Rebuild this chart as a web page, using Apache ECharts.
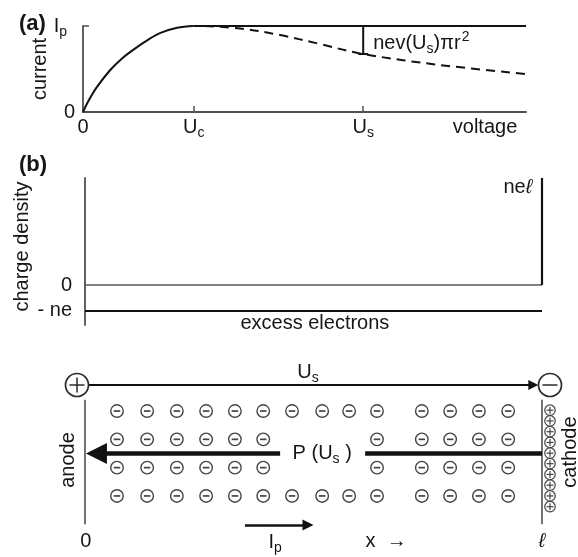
<!DOCTYPE html>
<html><head><meta charset="utf-8">
<script src="https://cdn.jsdelivr.net/npm/echarts@6/dist/echarts.min.js"></script>
<style>html,body{margin:0;padding:0;background:#fff}#c{width:578px;height:557px}</style>
</head><body><div id="c"></div>
<script>
// ---------- panel (a): current vs voltage (voltage in units of Uc, current in units of Ip)
const riseVoltage    = [0, 0.05, 0.12, 0.24, 0.35, 0.45, 0.60, 0.70, 0.85, 1.00];
const riseCurrent    = [0, 0.13, 0.28, 0.48, 0.62, 0.72, 0.85, 0.92, 0.98, 1.00];
const plateauVoltage = [1.00, 4.00];
const plateauCurrent = [1.00, 1.00];
const limitedVoltage = [1.10, 1.42, 1.78, 2.14, 2.53, 3.22, 4.00];
const limitedCurrent = [1.00, 0.971, 0.895, 0.79, 0.674, 0.547, 0.442];
const Uc = 1.0, Us = 2.53, voltageMax = 4.0;
const aXTickValues = [0, Uc, Us, 3.63];
const aXTickLabels = ['{m|0}', '{m|U}{s|c}', '{m|U}{s|s}', '{m|voltage}'];
const aYTickValues = [0, 1];
const aYTickLabels = ['{m|0}', '{m|I}{sp|p}'];
const lossLabel = '{m|nev(U}{s|s}{m|)πr}{p|2}';

// ---------- panel (b): charge density vs position (x in units of ℓ, density in units of ne)
const densityX       = [0, 1];
const zeroLevel      = [0, 0];
const electronLevel  = [-1, -1];
const cathodeSpikeX  = [1, 1];
const cathodeSpikeY  = [0, 4.12];
const bYTickValues   = [0, -1];
const bYTickLabels   = ['{m|0}', '{m|- ne}'];

// ---------- panel (c): diode sketch (x in units of ℓ, lateral position in row units)
const electronColsAll   = [0.070, 0.136, 0.201, 0.265, 0.328, 0.390, 0.453, 0.519, 0.578, 0.639, 0.737, 0.799, 0.862, 0.926];
const electronColsInner = [0.070, 0.136, 0.201, 0.265, 0.328, 0.390, 0.639, 0.737, 0.799, 0.862, 0.926];
const electronRowsOuter = [1.5, -1.5];
const electronRowsInner = [0.5, -0.5];
const cathodeChargeY    = [1.53, 1.15, 0.77, 0.39, 0.01, -0.36, -0.74, -1.12, -1.50, -1.88];
const cathodeChargeX    = 1.0175;
const terminalX         = [-0.0175, 1.0175];
const terminalY         = 2.42;
const terminalSign      = ['+', '-'];
const plateTop = 1.9, plateBottom = -2.5;

const FONT = '"Liberation Sans", Arial, Helvetica, sans-serif';
const TXT = '#161616';
const AX = '#505050';
const DARK = '#121212';

const rich = {
  m:  {fontSize: 20, fontFamily: FONT, color: TXT},
  i:  {fontSize: 20, fontFamily: FONT, color: TXT, fontStyle: 'italic'},
  s:  {fontSize: 14, fontFamily: FONT, color: TXT, padding: [6, 0, -6, 0]},
  sp: {fontSize: 14, fontFamily: FONT, color: TXT, padding: [6, 8, -6, 0]},
  p:  {fontSize: 14, fontFamily: FONT, color: TXT, padding: [-6, 0, 6, 1]}
};

function pick(values, labels) {
  return function (v) {
    let best = 0;
    values.forEach((t, k) => { if (Math.abs(t - v) < Math.abs(values[best] - v)) best = k; });
    return labels[best];
  };
}
function zip(a, b) { return a.map((v, k) => [v, b[k]]); }

function lineSeries(grid, data, style, extra) {
  return Object.assign({
    type: 'line', xAxisIndex: grid, yAxisIndex: grid, data: data,
    showSymbol: false, symbol: 'none', silent: true, clip: false,
    lineStyle: Object.assign({color: DARK, width: 2, opacity: 1}, style), z: 3
  }, extra || {});
}
function arrowSeries(grid, from, to, width, head) {
  return {
    type: 'lines', coordinateSystem: 'cartesian2d', xAxisIndex: grid, yAxisIndex: grid,
    polyline: false, silent: true, symbol: ['none', 'triangle'], symbolSize: [0, head],
    lineStyle: {color: DARK, width: width, opacity: 1, curveness: 0},
    itemStyle: {color: DARK, opacity: 1},
    data: [{coords: [from, to]}], z: 5
  };
}
function labelStyle(text, rotate, align) {
  return {show: true, position: [0, 0], formatter: text, rotate: rotate || 0, rich: rich,
          align: align || 'center', verticalAlign: 'middle', color: TXT, opacity: 1,
          textBorderWidth: 0, textShadowBlur: 0};
}
function textSeries(grid, points, texts, rotations) {
  return {
    type: 'scatter', xAxisIndex: grid, yAxisIndex: grid, symbolSize: 0, silent: true, clip: false, z: 10,
    itemStyle: {color: TXT, opacity: 1},
    data: points.map((p, k) => ({value: p, label: labelStyle(texts[k], rotations ? rotations[k] : 0)}))
  };
}
function dotSeries(grid, points, symbol, size, style, z) {
  return {
    type: 'scatter', xAxisIndex: grid, yAxisIndex: grid, silent: true, clip: false, z: z,
    symbol: symbol, symbolSize: size, itemStyle: Object.assign({opacity: 1}, style), data: points
  };
}

// electron positions from the column/row arrays
const electronPoints = [];
electronRowsOuter.forEach(r => electronColsAll.forEach(c => electronPoints.push([c, r])));
electronRowsInner.forEach(r => electronColsInner.forEach(c => electronPoints.push([c, r])));
const cathodePoints = cathodeChargeY.map(y => [cathodeChargeX, y]);
const terminalPoints = terminalX.map(x => [x, terminalY]);

const chart = echarts.init(document.getElementById('c'), null, {renderer: 'canvas'});
chart.setOption({
  animation: false,
  backgroundColor: '#fff',
  title: [
    {text: '(a)', left: 14, top: 8, textStyle: {fontSize: 22, fontWeight: 'bold', fontFamily: FONT, color: TXT}},
    {text: '(b)', left: 14, top: 149, textStyle: {fontSize: 22, fontWeight: 'bold', fontFamily: FONT, color: TXT}}
  ],
  grid: [
    {left: 83, top: 26, width: 443, height: 86, outerBoundsMode: 'none'},
    {left: 85, top: 178, width: 457, height: 147, outerBoundsMode: 'none'},
    {left: 85, top: 368.6, width: 457, height: 181.1, outerBoundsMode: 'none'}
  ],
  xAxis: [
    {gridIndex: 0, type: 'value', min: 0, max: voltageMax,
     axisLine: {show: true, onZero: false, lineStyle: {color: AX, width: 1.8}},
     axisTick: {show: true, inside: true, length: 6, customValues: [Uc, Us], lineStyle: {color: AX, width: 1.5}},
     axisLabel: {show: true, customValues: aXTickValues, formatter: pick(aXTickValues, aXTickLabels), margin: 5, rich: rich},
     splitLine: {show: false}},
    {gridIndex: 1, type: 'value', min: 0, max: 1, show: false, splitLine: {show: false}},
    {gridIndex: 2, type: 'value', min: 0, max: 1, show: false, splitLine: {show: false}}
  ],
  yAxis: [
    {gridIndex: 0, type: 'value', min: 0, max: 1,
     axisLine: {show: true, onZero: false, lineStyle: {color: AX, width: 1.8}},
     axisTick: {show: true, inside: true, length: 6, customValues: [1], lineStyle: {color: AX, width: 1.5}},
     axisLabel: {show: true, customValues: aYTickValues, formatter: pick(aYTickValues, aYTickLabels), margin: 8, rich: rich},
     splitLine: {show: false},
     name: 'current', nameLocation: 'middle', nameGap: 33, nameRotate: 90, nameMoveOverlap: false,
     nameTextStyle: {fontSize: 20, fontFamily: FONT, color: TXT}},
    {gridIndex: 1, type: 'value', min: -1.54, max: 4.12,
     axisLine: {show: true, onZero: false, lineStyle: {color: AX, width: 1.8}},
     axisTick: {show: false},
     axisLabel: {show: true, customValues: bYTickValues, formatter: pick(bYTickValues, bYTickLabels), margin: 13, rich: rich},
     splitLine: {show: false},
     name: 'charge density', nameLocation: 'middle', nameGap: 53, nameRotate: 90, nameMoveOverlap: false,
     nameTextStyle: {fontSize: 20, fontFamily: FONT, color: TXT, padding: [0, 0, 0, 10]}},
    {gridIndex: 2, type: 'value', min: -3.4, max: 3.0, show: false, splitLine: {show: false}}
  ],
  series: [
    // ---- (a)
    lineSeries(0, zip(riseVoltage, riseCurrent), {width: 2}, {smooth: 0.35}),
    lineSeries(0, zip(plateauVoltage, plateauCurrent), {width: 2}),
    lineSeries(0, zip(limitedVoltage, limitedCurrent), {width: 2, type: [9, 6]}, {smooth: 0.35}),
    lineSeries(0, [[Us, 1], [Us, limitedCurrent[4]]], {width: 2}),
    lineSeries(0, [[Us - 0.045, limitedCurrent[4]], [Us + 0.045, limitedCurrent[4]]], {width: 2}),
    {type: 'scatter', xAxisIndex: 0, yAxisIndex: 0, symbolSize: 0, silent: true, z: 10, itemStyle: {color: TXT, opacity: 1},
     data: [{value: [2.62, 0.80], label: labelStyle(lossLabel, 0, 'left')}]},

    // ---- (b)
    lineSeries(1, zip(densityX, zeroLevel), {width: 1.6, color: '#5a5a5a'}),
    lineSeries(1, zip(cathodeSpikeX, cathodeSpikeY), {width: 2.2}),
    lineSeries(1, zip(densityX, electronLevel), {width: 2.2}),
    textSeries(1, [[0.947, 3.77], [0.503, -1.5]], ['{m|ne}{i|ℓ}', '{m|excess electrons}']),

    // ---- (c)
    lineSeries(2, [[0, plateTop], [0, plateBottom]], {width: 1.6, color: AX}),
    lineSeries(2, [[1, plateTop], [1, plateBottom]], {width: 1.6, color: AX}),
    arrowSeries(2, [0.0066, terminalY], [0.981, terminalY], 2, 10),
    arrowSeries(2, [0.427, 0], [0.025, 0], 4.5, 21),
    lineSeries(2, [[0.613, 0], [1, 0]], {width: 4.5}),
    arrowSeries(2, [0.350, -2.53], [0.488, -2.53], 2.5, 11),
    // electrons
    dotSeries(2, electronPoints, 'circle', 12.5, {color: '#fff', borderColor: '#444', borderWidth: 1.4}, 6),
    dotSeries(2, electronPoints, 'rect', [6.5, 1.7], {color: '#444'}, 7),
    // terminals
    dotSeries(2, terminalPoints, 'circle', 23, {color: '#fff', borderColor: '#2a2a2a', borderWidth: 1.7}, 6),
    dotSeries(2, terminalPoints, 'rect', [15, 1.5], {color: '#2a2a2a'}, 7),
    dotSeries(2, terminalPoints.filter((p, k) => terminalSign[k] === '+'), 'rect', [1.5, 15], {color: '#2a2a2a'}, 7),
    // cathode surface charge
    dotSeries(2, cathodePoints, 'circle', 10.5, {color: '#fff', borderColor: '#444', borderWidth: 1.2}, 6),
    dotSeries(2, cathodePoints, 'rect', [7, 1.2], {color: '#444'}, 7),
    dotSeries(2, cathodePoints, 'rect', [1.2, 7], {color: '#444'}, 7),
    textSeries(2,
      [[0.488, 2.88], [0.519, 0], [-0.037, -0.23], [1.063, 0.05], [0.002, -3.1], [0.416, -3.15], [0.659, -3.1], [1.0, -3.1]],
      ['{m|U}{s|s}', '{m|P (U}{s|s}{m| )}', '{m|anode}', '{m|cathode}', '{m|0}', '{m|I}{s|p}', '{m|x  →}', '{i|ℓ}'],
      [0, 0, 90, 90, 0, 0, 0, 0])
  ]
});
</script>
</body></html>
